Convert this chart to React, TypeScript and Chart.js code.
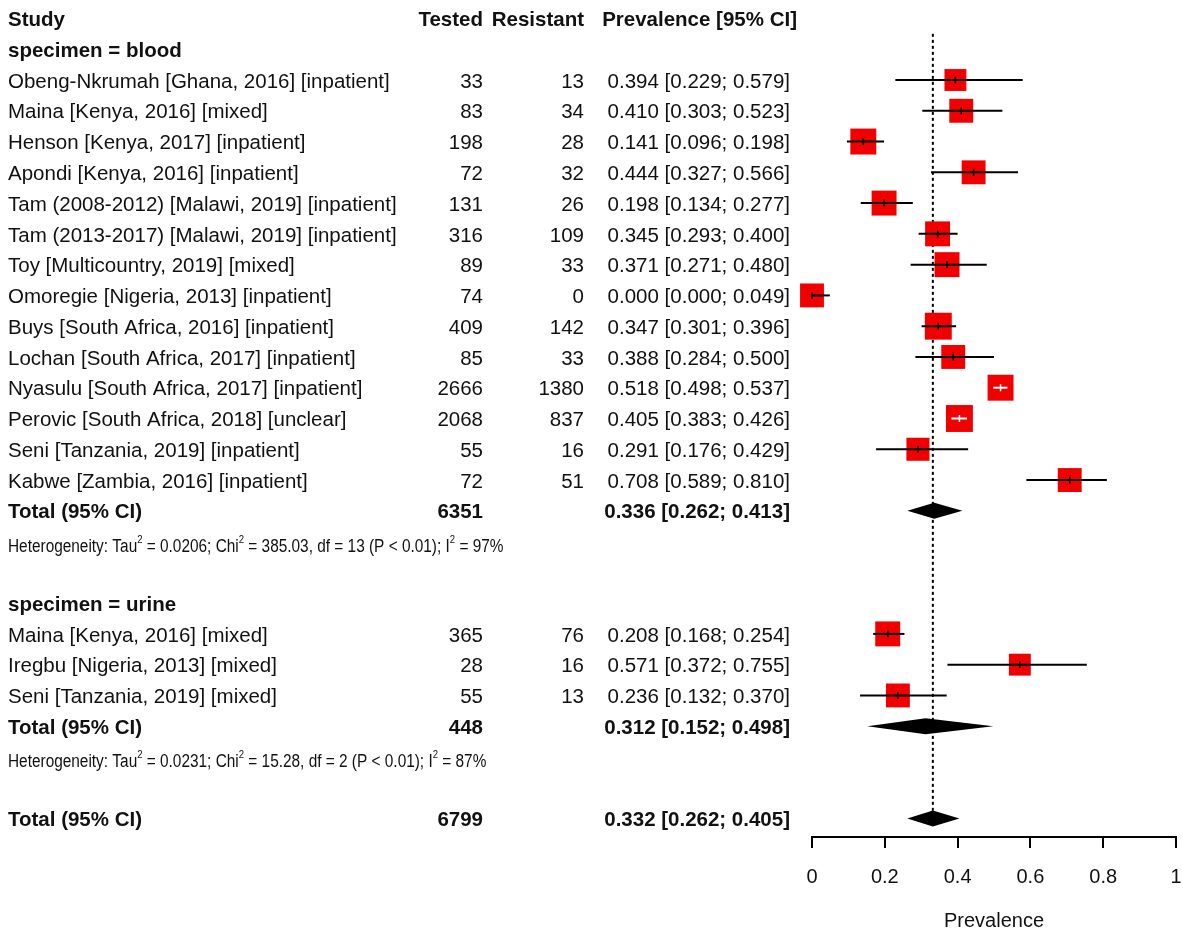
import React, { useEffect, useRef } from "react";
import { Chart, registerables } from "chart.js";

Chart.register(...registerables);

const FONT = "'Liberation Sans', Arial, Helvetica, sans-serif";

// ---------- data ----------
const columnHeaders = ["Study", "Tested", "Resistant", "Prevalence [95% CI]"];

const bloodStudies = [
  "Obeng-Nkrumah [Ghana, 2016] [inpatient]",
  "Maina [Kenya, 2016] [mixed]",
  "Henson [Kenya, 2017] [inpatient]",
  "Apondi [Kenya, 2016] [inpatient]",
  "Tam (2008-2012) [Malawi, 2019] [inpatient]",
  "Tam (2013-2017) [Malawi, 2019] [inpatient]",
  "Toy [Multicountry, 2019] [mixed]",
  "Omoregie [Nigeria, 2013] [inpatient]",
  "Buys [South Africa, 2016] [inpatient]",
  "Lochan [South Africa, 2017] [inpatient]",
  "Nyasulu [South Africa, 2017] [inpatient]",
  "Perovic [South Africa, 2018] [unclear]",
  "Seni [Tanzania, 2019] [inpatient]",
  "Kabwe [Zambia, 2016] [inpatient]",
];
const bloodTested = [33, 83, 198, 72, 131, 316, 89, 74, 409, 85, 2666, 2068, 55, 72];
const bloodResistant = [13, 34, 28, 32, 26, 109, 33, 0, 142, 33, 1380, 837, 16, 51];
const bloodPrev = [0.394, 0.41, 0.141, 0.444, 0.198, 0.345, 0.371, 0.0, 0.347, 0.388, 0.518, 0.405, 0.291, 0.708];
const bloodLower = [0.229, 0.303, 0.096, 0.327, 0.134, 0.293, 0.271, 0.0, 0.301, 0.284, 0.498, 0.383, 0.176, 0.589];
const bloodUpper = [0.579, 0.523, 0.198, 0.566, 0.277, 0.4, 0.48, 0.049, 0.396, 0.5, 0.537, 0.426, 0.429, 0.81];
const bloodWeight = [4.7, 5.6, 6.6, 5.6, 6.1, 6.1, 6.1, 5.6, 7.1, 5.6, 6.6, 7.1, 5.2, 5.6];

const urineStudies = [
  "Maina [Kenya, 2016] [mixed]",
  "Iregbu [Nigeria, 2013] [mixed]",
  "Seni [Tanzania, 2019] [mixed]",
];
const urineTested = [365, 28, 55];
const urineResistant = [76, 16, 13];
const urinePrev = [0.208, 0.571, 0.236];
const urineLower = [0.168, 0.372, 0.132];
const urineUpper = [0.254, 0.755, 0.37];
const urineWeight = [6.1, 4.7, 5.6];

const subgroupLabels = ["specimen = blood", "specimen = urine"];
const subgroupTested = [6351, 448];
const subgroupEst = [0.336, 0.312];
const subgroupLower = [0.262, 0.152];
const subgroupUpper = [0.413, 0.498];
const hetTau2 = ["0.0206", "0.0231"];
const hetChi2 = ["385.03", "15.28"];
const hetDf = ["13", "2"];
const hetP = ["P < 0.01", "P < 0.01"];
const hetI2 = ["97%", "87%"];

const totalLabel = "Total (95% CI)";
const overallTested = [6799];
const overallEst = [0.332];
const overallLower = [0.262];
const overallUpper = [0.405];

const xTicks = [0, 0.2, 0.4, 0.6, 0.8, 1];
const xTitle = "Prevalence";

// ---------- layout helpers ----------
type Study = { name: string; tested: number; resistant: number; est: number; lo: number; hi: number; w: number; row: number };
type Row =
  | { kind: "header"; row: number; text: string }
  | { kind: "study"; row: number; s: Study }
  | { kind: "total"; row: number; tested: number; est: number; lo: number; hi: number }
  | { kind: "het"; row: number; g: number };

function buildRows() {
  const rows: Row[] = [];
  const studies: Study[] = [];
  const groups = [
    { names: bloodStudies, t: bloodTested, r: bloodResistant, p: bloodPrev, l: bloodLower, u: bloodUpper, w: bloodWeight },
    { names: urineStudies, t: urineTested, r: urineResistant, p: urinePrev, l: urineLower, u: urineUpper, w: urineWeight },
  ];
  let row = 1;
  groups.forEach((g, gi) => {
    rows.push({ kind: "header", row, text: subgroupLabels[gi] });
    row++;
    g.names.forEach((name, i) => {
      const s: Study = { name, tested: g.t[i], resistant: g.r[i], est: g.p[i], lo: g.l[i], hi: g.u[i], w: g.w[i], row };
      studies.push(s);
      rows.push({ kind: "study", row, s });
      row++;
    });
    rows.push({ kind: "total", row, tested: subgroupTested[gi], est: subgroupEst[gi], lo: subgroupLower[gi], hi: subgroupUpper[gi] });
    rows.push({ kind: "het", row: row + 1, g: gi });
    row += 3;
  });
  rows.push({ kind: "total", row, tested: overallTested[0], est: overallEst[0], lo: overallLower[0], hi: overallUpper[0] });
  return { rows, studies, lastRow: row };
}

const fmt = (v: number) => v.toFixed(3);
const ciText = (e: number, l: number, h: number) => `${fmt(e)} [${fmt(l)}; ${fmt(h)}]`;

const SQUARE_K = 10.1; // side in px = K * sqrt(weight)
const sideOf = (w: number) => SQUARE_K * Math.sqrt(w);

// column x positions (px)
const COL_STUDY = 8;
const COL_TESTED = 483;
const COL_RESIST = 584;
const COL_CI = 790;
const COL_CI_HEAD = 797;
const TEXT_SIZE = 20.5;
const HET_SIZE = 18;
const HET_SQUEEZE = 0.855;
const HET_DY = 5;
const TEXT_DY = 2;
const DIAMOND_HALF = 8;

export default function App() {
  const ref = useRef<HTMLCanvasElement | null>(null);

  useEffect(() => {
    document.body.style.margin = "0";
    const canvas = ref.current;
    if (!canvas) return;
    const { rows, studies, lastRow } = buildRows();

    const inside = (chart: any, i: number) => {
      const xs = chart.scales.x;
      const s = studies[i];
      const c = xs.getPixelForValue(s.est);
      const half = sideOf(s.w) / 2;
      return xs.getPixelForValue(s.lo) >= c - half && xs.getPixelForValue(s.hi) <= c + half;
    };

    const ciData: any[] = [];
    studies.forEach((s) => {
      ciData.push({ x: s.lo, y: s.row });
      ciData.push({ x: s.hi, y: s.row });
      ciData.push({ x: s.est, y: null });
    });

    const textPlugin = {
      id: "forestText",
      afterDatasetsDraw(chart: any) {
        const ctx = chart.ctx as CanvasRenderingContext2D;
        const xs = chart.scales.x;
        const ys = chart.scales.y;
        ctx.save();
        rows.forEach((r) => {
          if (r.kind !== "total") return;
          const y = ys.getPixelForValue(r.row);
          ctx.beginPath();
          ctx.moveTo(xs.getPixelForValue(r.lo), y);
          ctx.lineTo(xs.getPixelForValue(r.est), y - DIAMOND_HALF);
          ctx.lineTo(xs.getPixelForValue(r.hi), y);
          ctx.lineTo(xs.getPixelForValue(r.est), y + DIAMOND_HALF);
          ctx.closePath();
          ctx.fillStyle = "#000";
          ctx.fill();
        });
        ctx.restore();
      },
      afterDraw(chart: any) {
        const ctx = chart.ctx as CanvasRenderingContext2D;
        const ys = chart.scales.y;
        ctx.save();
        ctx.fillStyle = "#111";
        ctx.textBaseline = "middle";
        const reg = `${TEXT_SIZE}px ${FONT}`;
        const bold = `bold ${TEXT_SIZE}px ${FONT}`;
        const put = (t: string, x: number, y: number, align: CanvasTextAlign, font: string) => {
          ctx.font = font;
          ctx.textAlign = align;
          ctx.fillText(t, x, y);
        };
        const y0 = ys.getPixelForValue(0) + TEXT_DY;
        put(columnHeaders[0], COL_STUDY, y0, "left", bold);
        put(columnHeaders[1], COL_TESTED, y0, "right", bold);
        put(columnHeaders[2], COL_RESIST, y0, "right", bold);
        put(columnHeaders[3], COL_CI_HEAD, y0, "right", bold);
        rows.forEach((r) => {
          const y = ys.getPixelForValue(r.row) + TEXT_DY;
          if (r.kind === "header") {
            put(r.text, COL_STUDY, y, "left", bold);
          } else if (r.kind === "study") {
            put(r.s.name, COL_STUDY, y, "left", reg);
            put(String(r.s.tested), COL_TESTED, y, "right", reg);
            put(String(r.s.resistant), COL_RESIST, y, "right", reg);
            put(ciText(r.s.est, r.s.lo, r.s.hi), COL_CI, y, "right", reg);
          } else if (r.kind === "total") {
            put(totalLabel, COL_STUDY, y, "left", bold);
            put(String(r.tested), COL_TESTED, y, "right", bold);
            put(ciText(r.est, r.lo, r.hi), COL_CI, y, "right", bold);
          } else if (r.kind === "het") {
            const g = r.g;
            const parts: [string, boolean][] = [
              ["Heterogeneity: Tau", false],
              ["2", true],
              [` = ${hetTau2[g]}; Chi`, false],
              ["2", true],
              [` = ${hetChi2[g]}, df = ${hetDf[g]} (${hetP[g]}); I`, false],
              ["2", true],
              [` = ${hetI2[g]}`, false],
            ];
            const yh = ys.getPixelForValue(r.row) + HET_DY;
            ctx.save();
            ctx.translate(COL_STUDY, yh);
            ctx.scale(HET_SQUEEZE, 1);
            let x = 0;
            ctx.textAlign = "left";
            parts.forEach(([t, sup]) => {
              ctx.font = sup ? `${HET_SIZE * 0.62}px ${FONT}` : `${HET_SIZE}px ${FONT}`;
              ctx.fillText(t, x, sup ? -7 : 0);
              x += ctx.measureText(t).width;
            });
            ctx.restore();
          }
        });
        ctx.restore();
      },
    };

    const chart = new Chart(canvas, {
      type: "scatter",
      data: {
        datasets: [
          {
            type: "line",
            label: "overall",
            data: [
              { x: overallEst[0], y: 0.5 },
              { x: overallEst[0], y: lastRow },
            ],
            borderColor: "#000",
            borderWidth: 2,
            borderDash: [3, 3],
            pointRadius: 0,
            order: 5,
            clip: false,
          } as any,
          {
            label: "squares",
            data: studies.map((s) => ({ x: s.est, y: s.row })),
            pointStyle: "rect",
            pointRadius: studies.map((s) => sideOf(s.w) / Math.SQRT2),
            pointHoverRadius: studies.map((s) => sideOf(s.w) / Math.SQRT2),
            backgroundColor: "#f00000",
            borderColor: "#f00000",
            borderWidth: 0,
            order: 3,
            clip: false,
          } as any,
          {
            type: "line",
            label: "ci",
            data: ciData,
            borderColor: "#000",
            borderWidth: 2,
            pointRadius: 0,
            spanGaps: false,
            order: 2,
            clip: false,
            segment: {
              borderColor: (c: any) => (inside(c.chart, Math.floor(c.p0DataIndex / 3)) ? "#fff" : undefined),
            },
          } as any,
          {
            label: "ticks",
            data: studies.map((s) => ({ x: s.est, y: s.row })),
            pointStyle: "line",
            rotation: 90,
            pointRadius: 3.5,
            borderWidth: 1.5,
            borderColor: (c: any) => (inside(c.chart, c.dataIndex) ? "#fff" : "#000"),
            order: 1,
            clip: false,
          } as any,
        ],
      },
      options: {
        animation: false,
        responsive: false,
        devicePixelRatio: 1,
        events: [],
        layout: { autoPadding: false, padding: { left: 812, right: 7, top: 2, bottom: 8 } },
        plugins: { legend: { display: false }, tooltip: { enabled: false } },
        scales: {
          x: {
            type: "linear",
            min: 0,
            max: 1,
            afterBuildTicks: (scale: any) => {
              scale.ticks = xTicks.map((v) => ({ value: v }));
            },
            ticks: {
              callback: (v: any) => String(v),
              font: { family: FONT, size: 20, lineHeight: 2.9 },
              color: "#111",
              padding: 0,
              maxRotation: 0,
              autoSkip: false,
            },
            grid: { display: true, drawOnChartArea: false, drawTicks: true, tickLength: 11, color: "#000", lineWidth: 2 },
            border: { display: true, color: "#000", width: 2 },
            title: {
              display: true,
              text: xTitle,
              font: { family: FONT, size: 20 },
              color: "#111",
              padding: { top: 3, bottom: 4 },
            },
          },
          y: {
            type: "linear",
            reverse: true,
            min: -0.535,
            max: 26.6,
            display: false,
          },
        },
      },
      plugins: [textPlugin],
    } as any);

    return () => chart.destroy();
  }, []);

  return (
    <div style={{ width: 1183, height: 945 }}>
      <canvas ref={ref} width={1183} height={945} style={{ display: "block" }} />
    </div>
  );
}
